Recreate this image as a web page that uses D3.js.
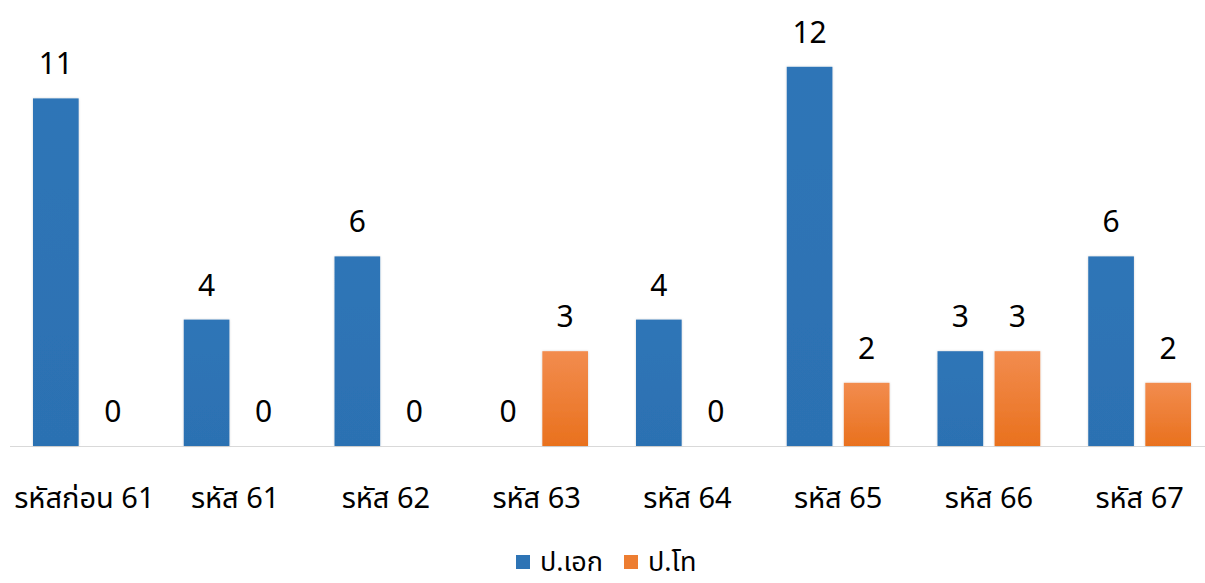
<!DOCTYPE html>
<html>
<head>
<meta charset="utf-8">
<script src="https://cdn.jsdelivr.net/npm/d3@7/dist/d3.min.js"></script>
<style>
  html, body { margin: 0; padding: 0; background: #ffffff; }
  svg { display: block; }
  text { font-family: "Leelawadee UI", Tahoma, "Noto Sans Thai", "Noto Sans", "DejaVu Sans", sans-serif; fill: #000; }
</style>
</head>
<body>
<svg id="chart" width="1205" height="583"></svg>
<script>
// Categories (course codes) and the two series
const categories = ["รหัสก่อน 61", "รหัส 61", "รหัส 62", "รหัส 63", "รหัส 64", "รหัส 65", "รหัส 66", "รหัส 67"];
const seriesNames = ["ป.เอก", "ป.โท"];
const phdValues = [11, 4, 6, 0, 4, 12, 3, 6];
const masterValues = [0, 0, 0, 3, 0, 2, 3, 2];

const width = 1205, height = 583;
const baseY = 446;

const svg = d3.select("#chart");

// gradients and soft shadow like an office chart
const defs = svg.append("defs");
const gOr = defs.append("linearGradient").attr("id", "orangeGrad")
  .attr("x1", 0).attr("y1", 0).attr("x2", 0).attr("y2", 1);
gOr.append("stop").attr("offset", "0%").attr("stop-color", "#F28C4E");
gOr.append("stop").attr("offset", "100%").attr("stop-color", "#E9711E");
const gBl = defs.append("linearGradient").attr("id", "blueGrad")
  .attr("x1", 0).attr("y1", 0).attr("x2", 0).attr("y2", 1);
gBl.append("stop").attr("offset", "0%").attr("stop-color", "#2F75B7");
gBl.append("stop").attr("offset", "100%").attr("stop-color", "#2C71B2");
const shadow = defs.append("filter").attr("id", "barShadow")
  .attr("x", "-20%").attr("y", "-5%").attr("width", "140%").attr("height", "110%");
shadow.append("feDropShadow").attr("dx", 0).attr("dy", 0).attr("stdDeviation", 1.2)
  .attr("flood-color", "#000").attr("flood-opacity", 0.18);

const x0 = d3.scaleBand().domain(categories).range([9, 1215]).paddingInner(0).paddingOuter(0);
const groupPad = 24;
const x1 = d3.scaleBand().domain(seriesNames)
  .range([groupPad, x0.bandwidth() - groupPad]).paddingInner(0.2);
const y = d3.scaleLinear().domain([0, 12]).range([baseY, baseY - 12 * 31.6]);

const fills = { "ป.เอก": "url(#blueGrad)", "ป.โท": "url(#orangeGrad)" };
const legendColors = { "ป.เอก": "#2E74B5", "ป.โท": "#ED7D31" };

const rows = categories.map((c, i) => ({
  cat: c,
  vals: [
    { s: seriesNames[0], v: phdValues[i] },
    { s: seriesNames[1], v: masterValues[i] }
  ]
}));

// baseline
svg.append("line")
  .attr("x1", 10).attr("x2", width)
  .attr("y1", baseY + 0.5).attr("y2", baseY + 0.5)
  .attr("stroke", "#D9D9D9").attr("stroke-width", 1.2);

const groups = svg.selectAll("g.grp").data(rows).join("g")
  .attr("class", "grp")
  .attr("transform", d => `translate(${x0(d.cat)},0)`);

groups.selectAll("rect").data(d => d.vals.filter(e => e.v > 0)).join("rect")
  .attr("x", d => x1(d.s))
  .attr("width", x1.bandwidth())
  .attr("y", d => y(d.v))
  .attr("height", d => y(0) - y(d.v))
  .attr("fill", d => fills[d.s])
  .attr("filter", "url(#barShadow)");

groups.selectAll("text.val").data(d => d.vals).join("text")
  .attr("class", "val")
  .attr("x", d => x1(d.s) + x1.bandwidth() / 2)
  .attr("y", d => y(d.v) - 24)
  .attr("text-anchor", "middle")
  .attr("font-size", 30)
  .text(d => d.v);

// category axis labels
svg.selectAll("text.cat").data(categories).join("text")
  .attr("class", "cat")
  .attr("x", d => x0(d) + x0.bandwidth() / 2)
  .attr("y", 508)
  .attr("text-anchor", "middle")
  .attr("font-size", 29)
  .text(d => d);

// legend
const legend = svg.append("g").attr("transform", "translate(516,0)");
const legendOffsets = [0, 108];
seriesNames.forEach((s, i) => {
  const g = legend.append("g").attr("transform", `translate(${legendOffsets[i]},0)`);
  g.append("rect").attr("x", 0).attr("y", 555).attr("width", 14).attr("height", 14)
    .attr("fill", legendColors[s]);
  g.append("text").attr("x", 24).attr("y", 571).attr("font-size", 27).text(s);
});
</script>
</body>
</html>
